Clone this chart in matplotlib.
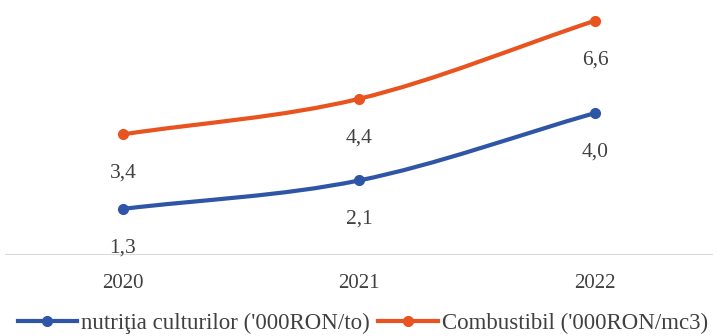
"""Input cost trend per year: crop nutrition and fuel, smoothed lines."""

import matplotlib.pyplot as plt
from matplotlib.path import Path
from matplotlib.patches import PathPatch
import numpy as np

years = ['2020', '2021', '2022']
nutritie = [1.3, 2.1, 4.0]
combustibil = [3.4, 4.4, 6.6]
value_labels_n = ['1,3', '2,1', '4,0']
value_labels_c = ['3,4', '4,4', '6,6']
series_names = ["nutriţia culturilor ('000RON/to)",
                "Combustibil ('000RON/mc3)"]

BLUE = '#2F56A6'
ORANGE = '#E8531F'
TEXT = '#404040'

plt.rcParams['font.family'] = ['Liberation Serif', 'DejaVu Serif']


def smooth_path(xs, ys):
    """Catmull-Rom style cubic bezier through the points."""
    pts = np.column_stack([xs, ys]).astype(float)
    n = len(pts)
    tang = np.zeros_like(pts)
    for i in range(n):
        if i == 0:
            tang[i] = pts[1] - pts[0]
        elif i == n - 1:
            tang[i] = pts[-1] - pts[-2]
        else:
            tang[i] = (pts[i + 1] - pts[i - 1]) / 2
    verts = [pts[0]]
    codes = [Path.MOVETO]
    for i in range(n - 1):
        verts += [pts[i] + tang[i] / 3, pts[i + 1] - tang[i + 1] / 3, pts[i + 1]]
        codes += [Path.CURVE4] * 3
    return Path(verts, codes)


fig = plt.figure(figsize=(7.18, 3.36), dpi=100)
ax = fig.add_axes([0.007, 0.241, 0.986, 0.7396])

x = np.arange(len(years))
ax.axhline(0, color='#D9D9D9', lw=1.5, zorder=1)

for vals, labels, color in [(nutritie, value_labels_n, BLUE),
                            (combustibil, value_labels_c, ORANGE)]:
    ax.add_patch(PathPatch(smooth_path(x, vals), fc='none', ec=color,
                           lw=3, capstyle='round', zorder=3))
    ax.plot(x, vals, ls='', marker='o', ms=7, color=color, zorder=4)
    for xi, v, lab in zip(x, vals, labels):
        ax.annotate(lab, (xi, v), xytext=(0, -28), textcoords='offset points',
                    ha='center', va='center', fontsize=15.5, color=TEXT)

ax.set_xlim(-0.5, 2.5)
ax.set_ylim(0, 7)
ax.set_xticks(x, years)
ax.tick_params(axis='x', length=0, pad=14, labelsize=15, labelcolor=TEXT)
ax.set_yticks([])
for s in ax.spines.values():
    s.set_visible(False)

handles = [plt.Line2D([], [], color=c, lw=3, marker='o', ms=7)
           for c in (BLUE, ORANGE)]
fig.legend(handles, series_names, loc='lower center', ncol=2,
           bbox_to_anchor=(0.505, -0.055), frameon=False, fontsize=16.5,
           handlelength=2.6, handletextpad=0.15, columnspacing=0.4,
           labelcolor=TEXT)

fig.savefig('out.png', dpi=100)
